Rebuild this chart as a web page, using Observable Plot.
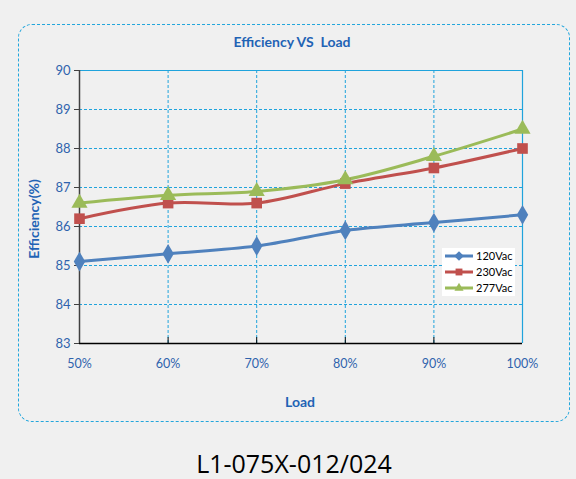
<!DOCTYPE html>
<html><head><meta charset="utf-8">
<script src="https://cdn.jsdelivr.net/npm/d3@7"></script>
<script src="https://cdn.jsdelivr.net/npm/@observablehq/plot@0.6"></script>
<style>
html,body{margin:0;padding:0;background:#f0f0f0;}
#wrap{position:relative;width:576px;height:479px;overflow:hidden;font-family:Lato,"Open Sans",sans-serif;}
#frame{position:absolute;left:18px;top:24px;width:550px;height:396px;border:1.3px dashed #23a6dc;border-radius:14px;}
#title{position:absolute;left:0;width:584px;top:33px;text-align:center;font-weight:bold;font-size:14px;color:#1f63b5;}
#xlabel{position:absolute;left:0;width:600px;top:393px;text-align:center;font-weight:bold;font-size:14px;color:#1f63b5;}
#caption{position:absolute;left:0;width:588px;top:446px;text-align:center;font-size:25px;color:#000;font-family:"Open Sans",sans-serif;}
#ylabel{position:absolute;left:33px;top:219px;transform:translate(-50%,-50%) rotate(-90deg);font-weight:bold;font-size:14px;color:#1f63b5;white-space:nowrap;}
#legend{position:absolute;left:442px;top:248px;width:73px;height:48px;background:#fff;font-size:11px;color:#000;}
#plot{position:absolute;left:0;top:0;}
</style></head>
<body><div id="wrap"><div id="frame"></div><div id="title">Efficiency VS&nbsp; Load</div><div id="plot"></div><div id="ylabel">Efficiency(%)</div><div id="xlabel">Load</div><div id="legend"></div><div id="caption">L1-075X-012/024</div></div>
<script>
const loads = [50, 60, 70, 80, 90, 100];
const seriesNames = ["120Vac", "230Vac", "277Vac"];
const eff120 = [85.1, 85.3, 85.5, 85.9, 86.1, 86.3];
const eff230 = [86.2, 86.6, 86.6, 87.1, 87.5, 88.0];
const eff277 = [86.6, 86.8, 86.9, 87.2, 87.8, 88.5];
const yTicks = [83, 84, 85, 86, 87, 88, 89, 90];
const colors = ["#4f81bd", "#c0504d", "#9bbb59"];
const symbols = ["diamond", "square", "triangle"];

const values = [eff120, eff230, eff277];
const data = [];
seriesNames.forEach((s, i) => loads.forEach((l, j) => data.push({series: s, load: l, eff: values[i][j]})));

const blue = "#1fa3dc";
const lab = "#2f63ad";
const plot = Plot.plot({
  width: 576, height: 440,
  marginLeft: 79, marginRight: 54, marginTop: 70, marginBottom: 97,
  style: {background: "transparent", fontFamily: "Lato, 'Open Sans', sans-serif"},
  x: {domain: [50, 100], ticks: loads, tickFormat: d => d + "%"},
  y: {domain: [83, 90], ticks: yTicks, tickFormat: d3.format("d")},
  color: {domain: seriesNames, range: colors},
  symbol: {domain: seriesNames, range: symbols},
  marks: [
    Plot.ruleY(yTicks.slice(1, -1), {stroke: blue, strokeWidth: 1, strokeDasharray: "3,2"}),
    Plot.ruleX(loads.slice(1, -1), {stroke: blue, strokeWidth: 1, strokeDasharray: "3,2"}),
    Plot.ruleY([90], {stroke: blue, strokeWidth: 1.2}),
    Plot.ruleX([100], {stroke: blue, strokeWidth: 1.2}),
    Plot.ruleX(loads.slice(1, -1), {y1: 83, y2: 83.15, stroke: "#000", strokeWidth: 1}),
    Plot.ruleX([50], {stroke: "#404040", strokeWidth: 1.5}),
    Plot.ruleY([83], {stroke: "#000", strokeWidth: 1.5}),
    Plot.axisY({ticks: yTicks, tickSize: 5, tickPadding: 4, stroke: "#404040", fill: lab, fontSize: 13, label: null, tickFormat: d3.format("d")}),
    Plot.axisX({ticks: loads, tickSize: 0, tickPadding: 16, fill: lab, fontSize: 12.5, label: null, tickFormat: d => d + "%"}),
    Plot.line(data, {x: "load", y: "eff", z: "series", stroke: "series", strokeWidth: 3, curve: "catmull-rom"}),
    Plot.dot(data, {x: "load", y: "eff", symbol: "series", fill: "series", r: 6, stroke: null})
  ]
});
document.getElementById("plot").appendChild(plot);

// legend built from the same series arrays
const lg = d3.select("#legend").append("svg").attr("width", 73).attr("height", 48);
seriesNames.forEach((s, i) => {
  const y = 8 + i * 16;
  lg.append("line").attr("x1", 3).attr("x2", 31).attr("y1", y).attr("y2", y).attr("stroke", colors[i]).attr("stroke-width", 3);
  lg.append("path").attr("transform", `translate(17,${y})`).attr("d", d3.symbol(i === 0 ? d3.symbolDiamond2 : i === 1 ? d3.symbolSquare2 : d3.symbolTriangle2, 60)()).attr("fill", colors[i]);
  lg.append("text").attr("x", 34).attr("y", y + 4).attr("font-size", 11).attr("font-family", "Lato, 'Open Sans', sans-serif").text(s);
});
</script></body></html>
